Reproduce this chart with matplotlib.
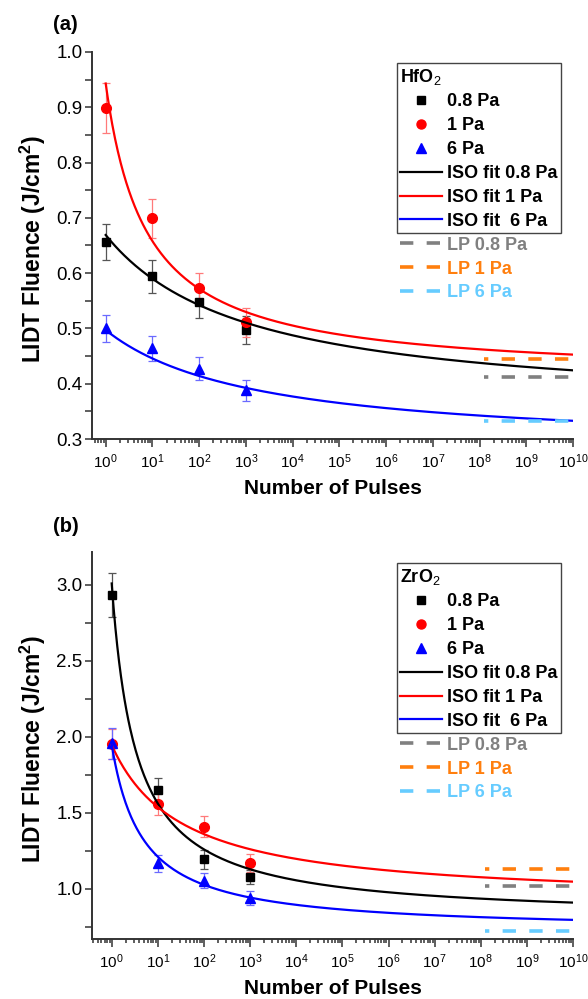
import numpy as np
import matplotlib
matplotlib.use("Agg")
import matplotlib.pyplot as plt
from matplotlib.lines import Line2D
from matplotlib.patches import Rectangle
from matplotlib.ticker import FixedLocator, MultipleLocator, NullFormatter, LogFormatterSciNotation

plt.rcParams['font.family'] = ['Liberation Sans', 'DejaVu Sans']
plt.rcParams['mathtext.fontset'] = 'custom'
plt.rcParams['mathtext.rm'] = 'Liberation Sans'
plt.rcParams['mathtext.it'] = 'Liberation Sans:italic'
plt.rcParams['mathtext.bf'] = 'Liberation Sans:bold'
plt.rcParams['lines.scale_dashes'] = False

# ---------------- data ----------------
pulses = [1, 10, 100, 1000]

hf_08 = [0.656, 0.594, 0.547, 0.497]
hf_08_err = [0.033, 0.030, 0.029, 0.025]
hf_1 = [0.899, 0.699, 0.573, 0.511]
hf_1_err = [0.045, 0.035, 0.028, 0.026]
hf_6 = [0.500, 0.464, 0.427, 0.388]
hf_6_err = [0.025, 0.023, 0.021, 0.019]

zr_08 = [2.934, 1.651, 1.195, 1.077]
zr_08_err = [0.147, 0.080, 0.062, 0.047]
zr_1 = [1.952, 1.559, 1.410, 1.173]
zr_1_err = [0.100, 0.073, 0.070, 0.060]
zr_6 = [1.958, 1.169, 1.055, 0.939]
zr_6_err = [0.100, 0.055, 0.050, 0.045]

# ISO 21254 fit parameters: (F_1, F_inf, delta)
hf_fit_08 = (0.669, 0.35, 0.33)
hf_fit_1 = (0.943, 0.41, 1.15)
hf_fit_6 = (0.497, 0.28, 0.31)
zr_fit_08 = (3.01, 0.80, 1.90)
zr_fit_1 = (1.947, 0.91, 0.65)
zr_fit_6 = (1.95, 0.72, 1.50)

# long-pulse (LP) levels
hf_lp = [0.413, 0.445, 0.332]
zr_lp = [1.020, 1.132, 0.724]
lp_range = [10 ** 8.1, 1e10]

decades = [10.0 ** k for k in range(0, 11)]
pressure_labels = ['0.8 Pa', '1 Pa', '6 Pa']
fit_labels = ['ISO fit 0.8 Pa', 'ISO fit 1 Pa', 'ISO fit  6 Pa']
lp_labels = ['LP 0.8 Pa', 'LP 1 Pa', 'LP 6 Pa']

colors = ['#000000', '#ff0000', '#0000ff']
err_colors = ['#555555', '#ff7a7a', '#6a6aff']
lp_colors = ['#808080', '#ff7f0e', '#66ccff']
markers = ['s', 'o', '^']
msizes = [6, 7, 7.5]

fig = plt.figure(figsize=(5.88, 9.99), dpi=100)
W, H = 588, 999


def px_axes(l, t, r, b):
    return fig.add_axes([l / W, 1 - b / H, (r - l) / W, (b - t) / H])


def iso(N, p):
    F1, Finf, d = p
    return Finf + (F1 - Finf) / (1 + d * np.log10(N))


def panel(ax, series, errs, fits, lps, ylim, ymaj, ymin, xlim):
    for i in range(3):
        ax.errorbar(pulses, series[i], yerr=errs[i], fmt='none', ecolor=err_colors[i],
                    elinewidth=0.9, capsize=2.6, capthick=0.9, zorder=2)
        ax.plot(pulses, series[i], ls='none', marker=markers[i], ms=msizes[i],
                color=colors[i], zorder=3)
    Nf = np.logspace(0, 10, 500)
    for i in range(3):
        ax.plot(Nf, iso(Nf, fits[i]), color=colors[i], lw=1.6, zorder=4)
    for i in range(3):
        ax.plot(lp_range, [lps[i], lps[i]], color=lp_colors[i], lw=2.6,
                ls=(6.5, (9.6, 9.6)), zorder=4)

    ax.set_xscale('log')
    ax.set_xlim(*xlim)
    ax.set_ylim(*ylim)
    ax.xaxis.set_major_locator(FixedLocator(decades))
    ax.xaxis.set_major_formatter(LogFormatterSciNotation())
    minors = [m * d for d in [0.1] + decades[:-1] for m in range(2, 10)]
    minors = [v for v in minors if xlim[0] <= v <= xlim[1]]
    ax.xaxis.set_minor_locator(FixedLocator(minors))
    ax.xaxis.set_minor_formatter(NullFormatter())
    ax.yaxis.set_major_locator(MultipleLocator(ymaj))
    ax.yaxis.set_minor_locator(MultipleLocator(ymin))
    ax.yaxis.set_major_formatter(matplotlib.ticker.FormatStrFormatter('%.1f'))
    for s in ['top', 'right']:
        ax.spines[s].set_visible(False)
    for s in ['left', 'bottom']:
        ax.spines[s].set_color('#333333')
        ax.spines[s].set_linewidth(1.4)
    ax.tick_params(which='both', direction='out', color='#333333', width=1.1)
    ax.tick_params(axis='y', which='major', length=5, labelsize=13.5, pad=2)
    ax.tick_params(axis='y', which='minor', length=5)
    ax.tick_params(axis='x', which='major', length=5.5, labelsize=11, pad=4)
    ax.tick_params(axis='x', which='minor', length=3)

    ax.set_xlabel('Number of Pulses', fontsize=15, fontweight='bold')
    ax.xaxis.set_label_coords(0.5, -0.128)
    ax.xaxis.label.set_va('center')
    ax.set_ylabel('LIDT Fluence (J/cm$^\\mathbf{2}$)', fontsize=16.5, fontweight='bold')
    ax.yaxis.set_label_coords(-0.123, 0.49)
    ax.yaxis.label.set_va('center')

    handles = [Line2D([], [], ls='none', marker=markers[i], ms=msizes[i] - 0.5, color=colors[i])
               for i in range(3)]
    handles += [Line2D([], [], color=colors[i], lw=1.6) for i in range(3)]
    handles += [Line2D([], [], color=lp_colors[i], lw=2.6, ls=(0, (9.6, 9.6)))
                for i in range(3)]
    labels = pressure_labels + fit_labels + lp_labels
    return handles, labels


ax1 = px_axes(92, 52, 573.3, 439)
h1, l1 = panel(ax1, [hf_08, hf_1, hf_6], [hf_08_err, hf_1_err, hf_6_err],
               [hf_fit_08, hf_fit_1, hf_fit_6], hf_lp, (0.3, 1.0), 0.1, 0.05,
               (10 ** -0.293, 10 ** 10.005))
ax2 = px_axes(92, 552, 573.3, 939)
h2, l2 = panel(ax2, [zr_08, zr_1, zr_6], [zr_08_err, zr_1_err, zr_6_err],
               [zr_fit_08, zr_fit_1, zr_fit_6], zr_lp, (0.671, 3.217), 0.5, 0.25,
               (10 ** -0.427, 10 ** 10.005))

fig.text(53 / W, 1 - 25 / H, '(a)', fontsize=14.5, fontweight='bold', va='center', ha='left')
fig.text(53 / W, 1 - 527 / H, '(b)', fontsize=14.5, fontweight='bold', va='center', ha='left')


def make_legend(ax, handles, labels, title, left, top):
    leg = ax.legend(handles, labels, title=title, loc='upper left',
                    bbox_to_anchor=(left / W, 1 - top / H), bbox_transform=fig.transFigure,
                    frameon=False, prop={'weight': 'bold', 'size': 13},
                    title_fontproperties={'weight': 'bold', 'size': 13},
                    alignment='left', handlelength=2.35, handletextpad=0.3,
                    labelspacing=0.38, borderpad=0.2, borderaxespad=0,
                    labelcolor=['k'] * 6 + lp_colors)
    return leg


leg1 = make_legend(ax1, h1, l1, 'HfO$_2$', 396, 63)
leg2 = make_legend(ax2, h2, l2, 'ZrO$_2$', 396, 563)

fig.canvas.draw()
for leg, top in [(leg1, 63), (leg2, 563)]:
    texts = leg.get_texts()
    b5 = texts[5].get_window_extent()
    b6 = texts[6].get_window_extent()
    ymid = (b5.y0 + b6.y1) / 2
    xr = max(t.get_window_extent().x1 for t in texts[:6]) + 3
    x0 = 397
    ytop = (H - top)
    rect = Rectangle((x0 / W, ymid / H), (xr - x0) / W, (ytop - ymid) / H,
                     transform=fig.transFigure, fill=False, edgecolor='#444444', lw=1.0)
    fig.add_artist(rect)

fig.savefig('out.png', dpi=100)
